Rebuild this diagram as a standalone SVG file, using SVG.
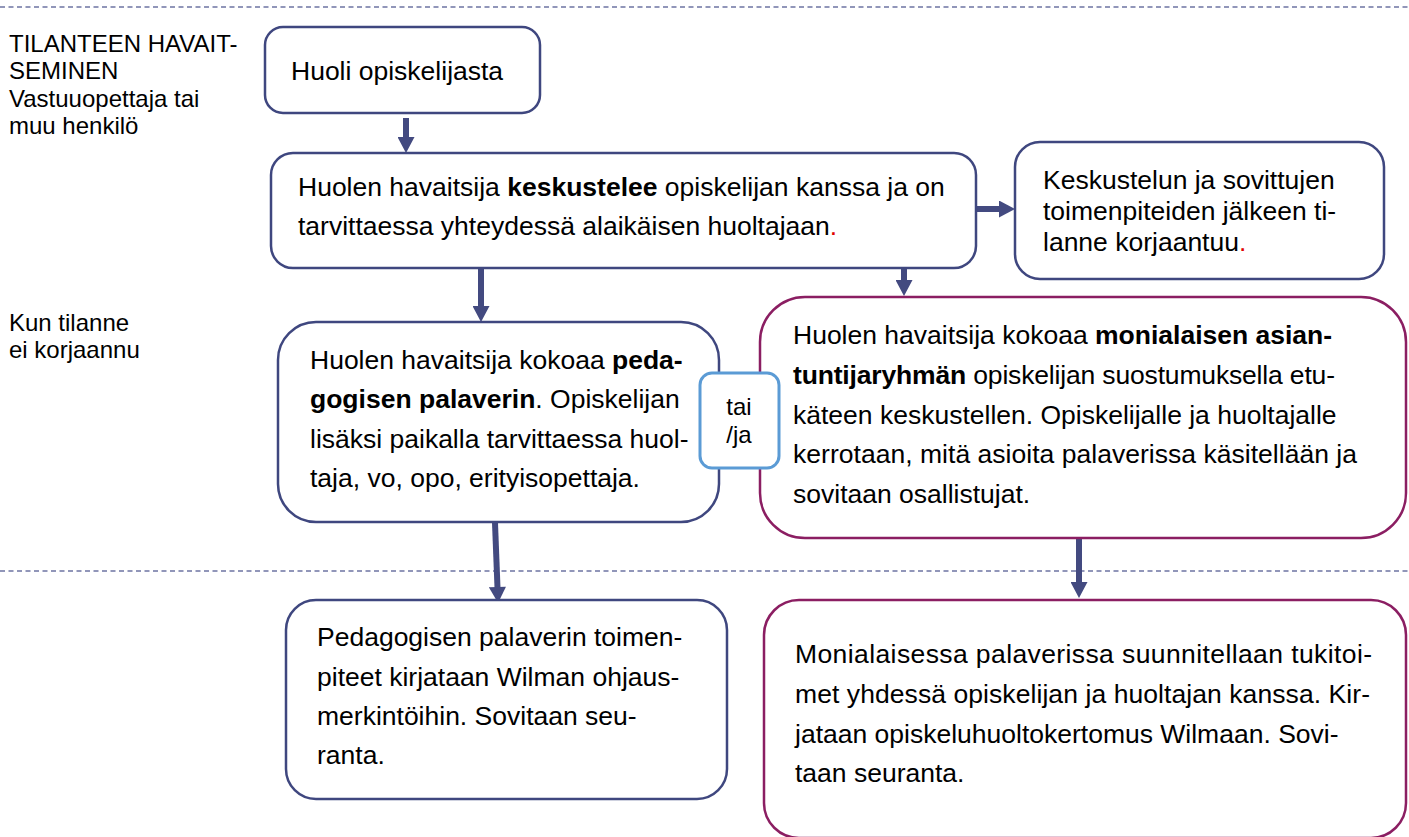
<svg xmlns="http://www.w3.org/2000/svg" width="1409" height="837" viewBox="0 0 1409 837">
<style>
text{font-family:"Liberation Sans",Arial,sans-serif;fill:#000}
.lbl{font-size:24px}
.t{font-size:26.5px}
.b{font-weight:bold}
.red{fill:#e00000}
.nv{fill:#fff;stroke:#3f477f;stroke-width:2.5}
.mg{fill:#fff;stroke:#8b1e62;stroke-width:2.5}
.bl{fill:#fff;stroke:#5b9bd5;stroke-width:3}
.dash{stroke:#6d74a3;stroke-width:1.3;stroke-dasharray:5 3.5;fill:none}
.arr{stroke:#434a80;stroke-width:6;fill:none;marker-end:url(#ah)}
</style>
<defs>
<marker id="ah" markerUnits="userSpaceOnUse" markerWidth="17" markerHeight="17" viewBox="0 0 16 17" refX="1" refY="8.5" orient="auto">
<path d="M0,0 L16,8.5 L0,17 z" fill="#434a80"/>
</marker>
</defs>
<rect width="1409" height="837" fill="#fff"/>
<g id="guides">
<line class="dash" x1="0" y1="7" x2="1409" y2="7"/>
<line class="dash" x1="0" y1="571" x2="1409" y2="571"/>
</g>
<g id="labels">
<text class="lbl" x="9" y="52">TILANTEEN HAVAIT-</text>
<text class="lbl" x="9" y="79">SEMINEN</text>
<text class="lbl" x="9" y="107">Vastuuopettaja tai</text>
<text class="lbl" x="9" y="134">muu henkilö</text>
<text class="lbl" x="9" y="331">Kun tilanne</text>
<text class="lbl" x="9" y="358">ei korjaannu</text>
</g>
<g id="connectors">
<line class="arr" x1="406" y1="118" x2="406" y2="138"/>
<line class="arr" x1="976" y1="209" x2="1000" y2="209"/>
<line class="arr" x1="481" y1="265" x2="481" y2="307"/>
<line class="arr" x1="904" y1="266" x2="904" y2="281"/>
<line class="arr" x1="495" y1="523" x2="497.5" y2="588"/>
<line class="arr" x1="1079" y1="538" x2="1079" y2="583"/>
</g>
<g id="n1">
<rect class="nv" x="265" y="27" width="275" height="86" rx="18"/>
<text class="t" x="291" y="80">Huoli opiskelijasta</text>
</g>
<g id="n2">
<rect class="nv" x="271" y="153" width="705" height="115" rx="22"/>
<text class="t" x="298" y="196">Huolen havaitsija <tspan class="b">keskustelee</tspan> opiskelijan kanssa ja on</text>
<text class="t" x="298" y="235">tarvittaessa yhteydessä alaikäisen huoltajaan<tspan class="red">.</tspan></text>
</g>
<g id="n3">
<rect class="nv" x="1015" y="142" width="369" height="137" rx="25"/>
<text class="t" x="1043" y="189">Keskustelun ja sovittujen</text>
<text class="t" x="1043" y="220">toimenpiteiden jälkeen ti-</text>
<text class="t" x="1043" y="251">lanne korjaantuu<tspan class="red">.</tspan></text>
</g>
<g id="n4">
<rect class="nv" x="278" y="322" width="441" height="200" rx="38"/>
<text class="t" x="310" y="369">Huolen havaitsija kokoaa <tspan class="b">peda-</tspan></text>
<text class="t" x="310" y="408"><tspan class="b">gogisen palaverin</tspan>. Opiskelijan</text>
<text class="t" x="310" y="448">lisäksi paikalla tarvittaessa huol-</text>
<text class="t" x="310" y="487">taja, vo, opo, erityisopettaja.</text>
</g>
<g id="n5">
<rect class="mg" x="760" y="297" width="646" height="241" rx="45"/>
<text class="t" x="793" y="344">Huolen havaitsija kokoaa <tspan class="b">monialaisen asian-</tspan></text>
<text class="t" x="793" y="384" textLength="542" lengthAdjust="spacing"><tspan class="b">tuntijaryhmän</tspan> opiskelijan suostumuksella etu-</text>
<text class="t" x="793" y="424">käteen keskustellen. Opiskelijalle ja huoltajalle</text>
<text class="t" x="793" y="463" textLength="564" lengthAdjust="spacing">kerrotaan, mitä asioita palaverissa käsitellään ja</text>
<text class="t" x="793" y="503">sovitaan osallistujat.</text>
</g>
<g id="n_taija">
<rect class="bl" x="700" y="373" width="79" height="95" rx="12"/>
<text class="lbl" x="739" y="415" text-anchor="middle">tai</text>
<text class="lbl" x="739" y="443" text-anchor="middle">/ja</text>
</g>
<g id="n6">
<rect class="nv" x="286" y="600" width="441" height="199" rx="30"/>
<text class="t" x="317" y="646">Pedagogisen palaverin toimen-</text>
<text class="t" x="317" y="686">piteet kirjataan Wilman ohjaus-</text>
<text class="t" x="317" y="725">merkintöihin. Sovitaan seu-</text>
<text class="t" x="317" y="764">ranta.</text>
</g>
<g id="n7">
<rect class="mg" x="764" y="600" width="642" height="238" rx="35"/>
<text class="t" x="795" y="663" textLength="577" lengthAdjust="spacing">Monialaisessa palaverissa suunnitellaan tukitoi-</text>
<text class="t" x="795" y="703" textLength="575" lengthAdjust="spacing">met yhdessä opiskelijan ja huoltajan kanssa. Kir-</text>
<text class="t" x="795" y="743">jataan opiskeluhuoltokertomus Wilmaan. Sovi-</text>
<text class="t" x="795" y="782">taan seuranta.</text>
</g>
</svg>
